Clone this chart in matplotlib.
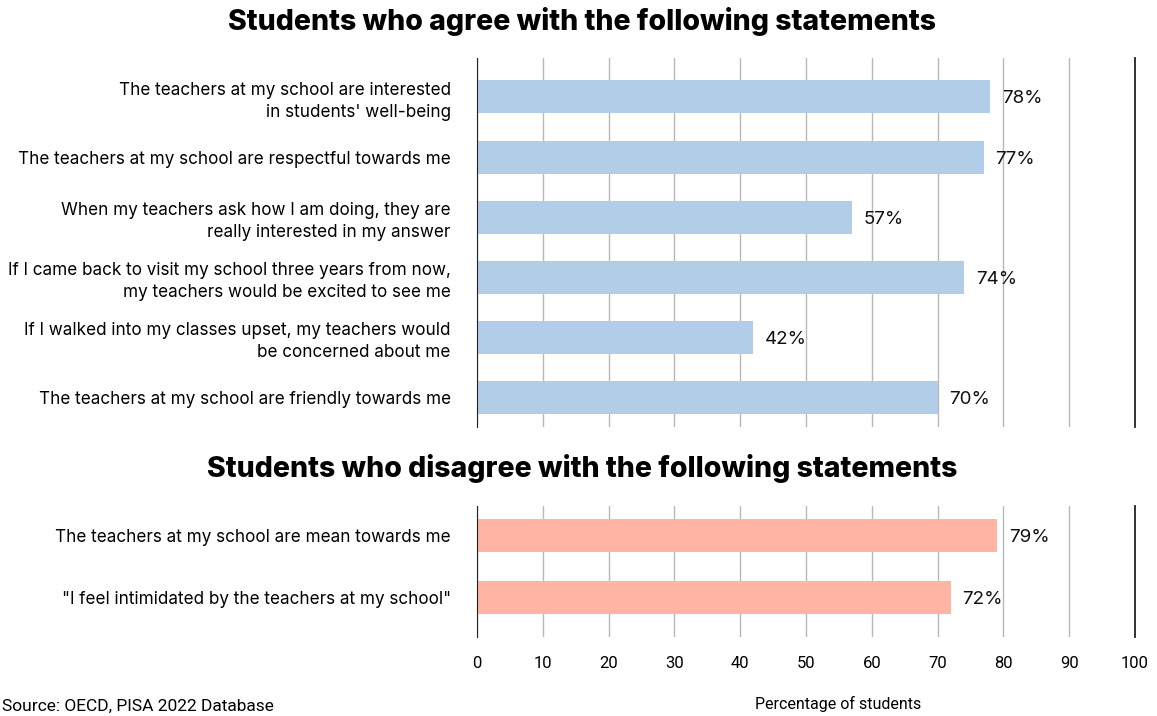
import matplotlib
matplotlib.use("Agg")
import matplotlib.pyplot as plt

# Survey statements and shares of students (%)
agree_labels = [
    "The teachers at my school are interested\nin students' well-being",
    "The teachers at my school are respectful towards me",
    "When my teachers ask how I am doing, they are\nreally interested in my answer",
    "If I came back to visit my school three years from now,\nmy teachers would be excited to see me",
    "If I walked into my classes upset, my teachers would\nbe concerned about me",
    "The teachers at my school are friendly towards me",
]
agree_values = [78, 77, 57, 74, 42, 70]

disagree_labels = [
    "The teachers at my school are mean towards me",
    "\"I feel intimidated by the teachers at my school\"",
]
disagree_values = [79, 72]

x_ticks = [0, 10, 20, 30, 40, 50, 60, 70, 80, 90, 100]

BLUE = "#b2cde8"
SALMON = "#ffb4a4"
GRID = "#b8b8b8"

plt.rcParams["font.family"] = ["Inter", "DejaVu Sans"]

fig = plt.figure(figsize=(11.57, 7.16), dpi=100)
ax_top = fig.add_axes([0.4123, 0.4036, 0.5687, 0.5154])
ax_bot = fig.add_axes([0.4123, 0.1103, 0.5687, 0.1830])


def draw_panel(ax, labels, values, color, ylim, height):
    pos = list(range(len(values)))
    ax.barh(pos, values, height=height, color=color, zorder=2)
    for p, v in zip(pos, values):
        ax.text(v + 1.8, p, f"{v}%", va="center_baseline", ha="left",
                fontsize=13.5, color="#111111", zorder=3)
    ax.set_xlim(0, 100)
    ax.set_ylim(*ylim)
    ax.set_yticks(pos)
    ax.set_yticklabels(labels, fontsize=12.3, ha="right", linespacing=1.35)
    ax.tick_params(axis="y", length=0, pad=19)
    ax.set_xticks(x_ticks)
    ax.xaxis.grid(True, color=GRID, linewidth=1, zorder=0)
    ax.set_axisbelow(True)
    for side in ("top", "bottom"):
        ax.spines[side].set_visible(False)
    ax.spines["left"].set_color("#222222")
    ax.spines["right"].set_color("#222222")
    ax.spines["right"].set_linewidth(1.3)


draw_panel(ax_top, agree_labels, agree_values, BLUE, (5.5, -0.65), 0.55)
draw_panel(ax_bot, disagree_labels, disagree_values, SALMON, (1.63, -0.48), 0.53)

ax_top.tick_params(axis="x", length=0, labelbottom=False)
ax_bot.tick_params(axis="x", length=0, pad=14, labelsize=12)
for t in ax_bot.get_xticklabels():
    t.set_fontfamily(["Roboto", "DejaVu Sans"])
    t.set_fontstretch("condensed")

fig.text(0.503, 0.970, "Students who agree with the following statements",
         ha="center", va="center", fontsize=20.5, fontweight="heavy")
fig.text(0.503, 0.346, "Students who disagree with the following statements",
         ha="center", va="center", fontsize=20.5, fontweight="heavy")

fig.text(0.724, 0.017, "Percentage of students", ha="center", va="center",
         fontsize=11.5, family=["Roboto", "DejaVu Sans"])
fig.text(0.002, 0.013, "Source: OECD, PISA 2022 Database", ha="left",
         va="center", fontsize=12.5, family=["Roboto", "DejaVu Sans"])

fig.savefig("out.png", dpi=100)
